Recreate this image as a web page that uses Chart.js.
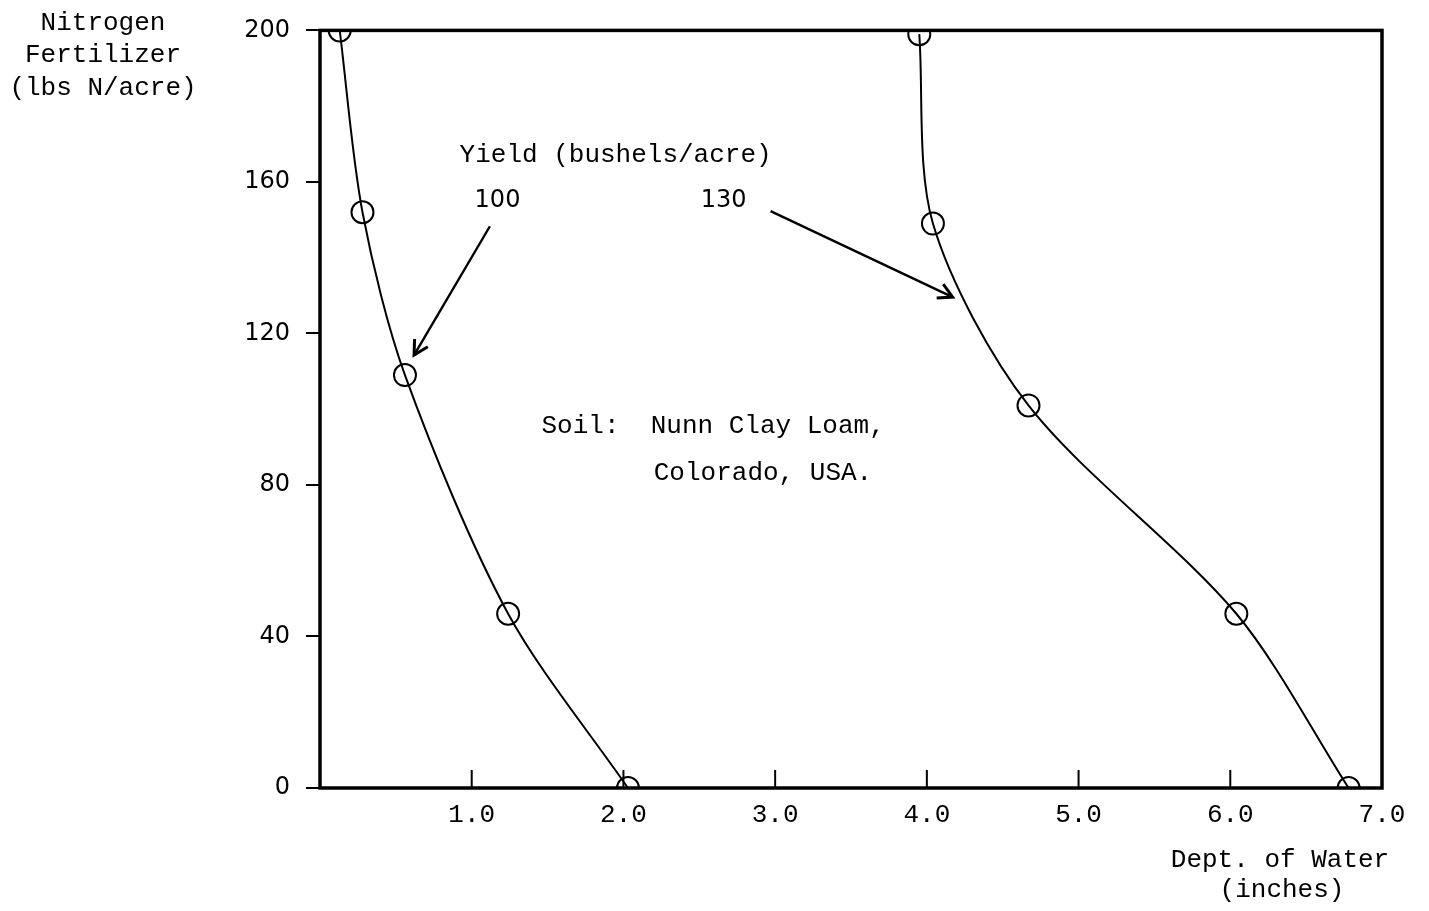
<!DOCTYPE html>
<html>
<head>
<meta charset="utf-8">
<script src="https://cdn.jsdelivr.net/npm/chart.js@4/dist/chart.umd.min.js"></script>
<style>
  html, body { margin: 0; padding: 0; background: #fff; }
  #wrap { width: 1429px; height: 911px; position: relative; }
</style>
</head>
<body>
<div id="wrap"><canvas id="myChart"></canvas></div>
<script>
// datos (agua en pulgadas, N en lbs/acre)
var water100 = [0.13, 0.28, 0.56, 1.24, 2.03];
var nitro100 = [200, 152, 109, 46, 0];
var water130 = [3.95, 4.04, 4.67, 6.04, 6.78];
var nitro130 = [199, 149, 101, 46, 0];
var xTicks = [1, 2, 3, 4, 5, 6, 7];
var yTicks = [0, 40, 80, 120, 160, 200];

var mono = '"Liberation Mono", "DejaVu Sans Mono", monospace';
var sans = '"DejaVu Sans", sans-serif';

function toPoints(xs, ys) {
  return xs.map(function (x, i) { return { x: x, y: ys[i] }; });
}

// caja, marcas del eje x y anotaciones
var decor = {
  id: 'decor',
  afterDraw: function (chart) {
    var ctx = chart.ctx;
    var a = chart.chartArea;
    var xs = chart.scales.x, ys = chart.scales.y;
    ctx.save();
    ctx.strokeStyle = '#000';
    ctx.lineWidth = 3.5;
    ctx.strokeRect(a.left, a.top, a.right - a.left, a.bottom - a.top);

    // marcas hacia dentro en el eje x
    ctx.lineWidth = 2;
    xTicks.forEach(function (v) {
      if (v >= 7) return;
      var px = xs.getPixelForValue(v);
      ctx.beginPath();
      ctx.moveTo(px, a.bottom);
      ctx.lineTo(px, a.bottom - 18);
      ctx.stroke();
    });

    ctx.fillStyle = '#000';
    ctx.textBaseline = 'middle';
    function txt(s, x, y, font, align) {
      ctx.font = font;
      ctx.textAlign = align || 'left';
      ctx.fillText(s, xs.getPixelForValue(x), ys.getPixelForValue(y));
    }
    txt('Yield (bushels/acre)', 0.92, 167, '26px ' + mono);
    txt('100', 1.17, 155, '24px ' + sans, 'center');
    txt('130', 2.66, 155, '24px ' + sans, 'center');
    txt('Soil:  Nunn Clay Loam,', 1.46, 95.5, '26px ' + mono);
    txt('Colorado, USA.', 2.20, 83, '26px ' + mono);

    // flechas
    function arrow(x1, y1, x2, y2) {
      var p1x = xs.getPixelForValue(x1), p1y = ys.getPixelForValue(y1);
      var p2x = xs.getPixelForValue(x2), p2y = ys.getPixelForValue(y2);
      var ang = Math.atan2(p2y - p1y, p2x - p1x);
      ctx.lineWidth = 2.4;
      ctx.beginPath();
      ctx.moveTo(p1x, p1y);
      ctx.lineTo(p2x, p2y);
      ctx.stroke();
      ctx.lineWidth = 3;
      ctx.beginPath();
      ctx.moveTo(p2x - 16 * Math.cos(ang - 0.5), p2y - 16 * Math.sin(ang - 0.5));
      ctx.lineTo(p2x, p2y);
      ctx.lineTo(p2x - 16 * Math.cos(ang + 0.5), p2y - 16 * Math.sin(ang + 0.5));
      ctx.stroke();
    }
    arrow(1.12, 148.3, 0.62, 114.3);
    arrow(2.97, 152.3, 4.17, 129.6);

    // titulos de ejes
    ctx.font = '26px ' + mono;
    ctx.textAlign = 'center';
    ctx.fillText('Nitrogen', a.left - 217, a.top - 7);
    ctx.fillText('Fertilizer', a.left - 217, a.top + 25);
    ctx.fillText('(lbs N/acre)', a.left - 217, a.top + 58);
    ctx.fillText('Dept. of Water', a.right - 102, a.bottom + 72);
    ctx.fillText('(inches)', a.right - 100, a.bottom + 102);
    ctx.restore();
  }
};

var serie = function (xs, ys) {
  return {
    data: toPoints(xs, ys),
    showLine: true,
    borderColor: '#000',
    borderWidth: 2,
    tension: 0.3,
    pointRadius: 11,
    pointBorderWidth: 2,
    pointBackgroundColor: 'rgba(0,0,0,0)',
    pointBorderColor: '#000',
    fill: false
  };
};

var ctx = document.getElementById('myChart').getContext('2d');
var myChart = new Chart(ctx, {
  type: 'scatter',
  data: {
    datasets: [serie(water100, nitro100), serie(water130, nitro130)]
  },
  options: {
    responsive: true,
    maintainAspectRatio: false,
    animation: false,
    layout: { padding: { top: 29, right: 47, left: 0, bottom: 0 } },
    plugins: {
      legend: { display: false },
      tooltip: { enabled: false }
    },
    scales: {
      x: {
        type: 'linear',
        min: 0,
        max: 7,
        afterFit: function (s) { s.height = 123; },
        afterBuildTicks: function (s) {
          s.ticks = [0].concat(xTicks).map(function (v) { return { value: v }; });
        },
        border: { display: false },
        grid: { display: false, drawTicks: false },
        ticks: {
          padding: 12,
          color: '#000',
          font: { family: mono, size: 26 },
          maxRotation: 0,
          callback: function (v) { return v === 0 ? '' : v.toFixed(1); }
        }
      },
      y: {
        type: 'linear',
        min: 0,
        max: 200,
        afterFit: function (s) { s.width = 320; },
        afterBuildTicks: function (s) {
          s.ticks = yTicks.map(function (v) { return { value: v }; });
        },
        border: { display: false },
        grid: {
          drawOnChartArea: false,
          drawTicks: true,
          tickLength: 14,
          color: '#000',
          lineWidth: 2
        },
        ticks: {
          padding: 16,
          color: '#000',
          font: { family: sans, size: 24 }
        }
      }
    }
  },
  plugins: [decor]
});
</script>
</body>
</html>
